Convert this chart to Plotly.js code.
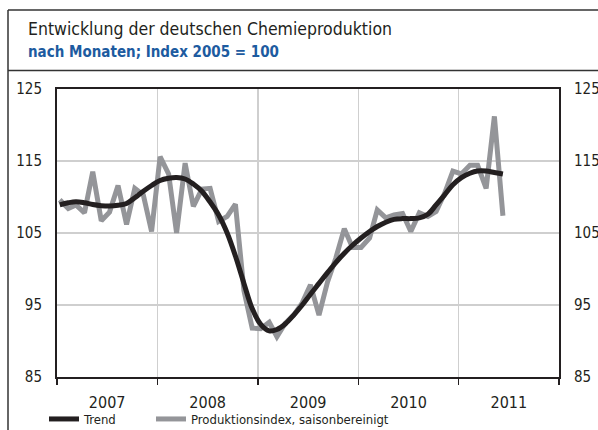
<!DOCTYPE html>
<html>
<head>
<meta charset="utf-8">
<script src="https://cdn.plot.ly/plotly-3.0.1.min.js"></script>
<style>
  html, body { margin: 0; padding: 0; background: #fff; }
  #chart { width: 598px; height: 430px; }
</style>
</head>
<body>
<div id="chart"></div>
<script>
// ---- data (monthly, Jan 2007 – Jun 2011) ----
const startYear = 2007;
const produktionsindex = [
  109.6, 108.4, 108.9, 107.8, 113.5, 106.7, 107.9, 111.6, 106.2, 111.2, 110.3, 105.2,
  115.6, 113.2, 105.0, 114.7, 108.7, 111.1, 111.2, 106.6, 107.3, 109.0, 97.0, 91.8,
  91.7, 92.6, 90.6, 92.5, 93.6, 95.3, 97.8, 93.6, 98.2, 101.5, 105.6, 103.0,
  103.0, 104.3, 108.2, 107.1, 107.5, 107.7, 105.2, 107.8, 107.3, 108.0, 110.5, 113.6,
  113.2, 114.4, 114.4, 111.2, 121.2, 107.4
];
const trend = [
  108.9, 109.2, 109.35, 109.2, 108.95, 108.8, 108.75, 108.85, 109.1, 109.9, 110.8, 111.6,
  112.3, 112.6, 112.7, 112.5, 111.8, 110.8, 109.3, 107.5, 105.0, 101.8, 98.0, 94.5,
  92.3, 91.4, 91.6, 92.4, 93.6, 95.0, 96.5, 98.0, 99.5, 100.9, 102.2, 103.3,
  104.3, 105.2, 105.9, 106.5, 106.9, 107.0, 107.0, 107.1, 107.6, 108.9, 110.3, 111.7,
  112.7, 113.3, 113.6, 113.6, 113.4, 113.2
];
const yTicks = [85, 95, 105, 115, 125];
const seriesNames = ['Trend', 'Produktionsindex, saisonbereinigt'];
const titleText = 'Entwicklung der deutschen Chemieproduktion';
const subtitleText = 'nach Monaten; Index 2005 = 100';

// month dates
const months = produktionsindex.map((_, i) => {
  const y = startYear + Math.floor(i / 12);
  const m = String(i % 12 + 1).padStart(2, '0');
  return `${y}-${m}-11`;
});

const FONT = '"DejaVu Sans Condensed", "Liberation Sans Narrow", "Roboto", sans-serif';

const traces = [
  {
    x: months, y: produktionsindex, type: 'scatter', mode: 'lines',
    name: seriesNames[1], legend: 'legend2',
    line: { color: '#949599', width: 5, shape: 'linear' },
    hoverinfo: 'skip'
  },
  {
    x: months, y: trend, type: 'scatter', mode: 'lines',
    name: seriesNames[0], legend: 'legend',
    line: { color: '#231f20', width: 5, shape: 'spline', smoothing: 1 },
    hoverinfo: 'skip'
  },
  {
    x: months, y: trend, type: 'scatter', mode: 'lines', yaxis: 'y2',
    showlegend: false, hoverinfo: 'skip', line: { width: 0, color: 'rgba(0,0,0,0)' }
  }
];

const L = 57, R = 559, T = 89, B = 377, W = 598, H = 430;
const px = v => (v - L) / (R - L);
const py = v => (B - v) / (B - T);

const legendBase = {
  orientation: 'h', xanchor: 'left', yanchor: 'middle',
  xref: 'container', yref: 'container', y: 1 - 419 / H,
  font: { family: FONT, size: 13, color: '#231f20' },
  bgcolor: 'rgba(0,0,0,0)', borderwidth: 0, itemclick: false, itemdoubleclick: false
};

const layout = {
  width: W, height: H,
  margin: { l: L, r: W - R, t: T, b: H - B, pad: 0, autoexpand: false },
  paper_bgcolor: '#fff', plot_bgcolor: '#fff',
  font: { family: FONT, color: '#231f20', size: 15 },
  showlegend: true,
  title: {
    text: titleText,
    font: { family: FONT, size: 17.5, color: '#231f20' },
    x: 28 / W, xanchor: 'left', xref: 'container',
    y: 1 - 35 / H, yanchor: 'bottom', yref: 'container', pad: { t: 0, b: 0, l: 0, r: 0 }
  },
  annotations: [{
    text: '<b>' + subtitleText + '</b>', xref: 'paper', yref: 'paper',
    x: px(26), y: py(52), xanchor: 'left', yanchor: 'middle', showarrow: false,
    font: { family: FONT, size: 15, color: '#1d5ba0' }
  }],
  xaxis: {
    type: 'date',
    range: ['2007-01-01', '2012-01-01'],
    dtick: 'M12', tick0: '2007-01-01', tickformat: '%Y', ticklabelmode: 'period',
    showgrid: true, gridcolor: '#cfcfcf', gridwidth: 1.5,
    showline: true, linecolor: '#231f20', linewidth: 2, mirror: true,
    ticks: 'outside', ticklen: 6, tickwidth: 1.5, tickcolor: '#231f20',
    ticklabelstandoff: 4,
    tickfont: { size: 16, family: FONT, color: '#231f20' },
    zeroline: false, fixedrange: true
  },
  yaxis: {
    range: [85, 125], tickmode: 'array', tickvals: yTicks,
    showgrid: true, gridcolor: '#cfcfcf', gridwidth: 1.5,
    showline: true, linecolor: '#231f20', linewidth: 2, mirror: true,
    ticks: 'outside', ticklen: 10, tickcolor: 'rgba(0,0,0,0)',
    tickfont: { size: 15, family: FONT, color: '#231f20' },
    zeroline: false, fixedrange: true
  },
  yaxis2: {
    range: [85, 125], tickmode: 'array', tickvals: yTicks,
    overlaying: 'y', side: 'right', anchor: 'x',
    showgrid: false, showline: false,
    ticks: 'outside', ticklen: 11, tickcolor: 'rgba(0,0,0,0)',
    tickfont: { size: 15, family: FONT, color: '#231f20' },
    zeroline: false, fixedrange: true
  },
  legend: Object.assign({}, legendBase, { x: 44 / W }),
  legend2: Object.assign({}, legendBase, { x: 151 / W }),
  shapes: [
    // outer frame
    { type: 'line', xref: 'paper', yref: 'paper', x0: px(8), x1: px(8), y0: py(10), y1: py(440), line: { color: '#333', width: 1.5 } },
    { type: 'line', xref: 'paper', yref: 'paper', x0: px(8), x1: px(610), y0: py(10), y1: py(10), line: { color: '#333', width: 1.5 } },
    { type: 'line', xref: 'paper', yref: 'paper', x0: px(8), x1: px(610), y0: py(70.5), y1: py(70.5), line: { color: '#333', width: 1.5 } }
  ]
};

Plotly.newPlot('chart', traces, layout, { displayModeBar: false, staticPlot: true });
</script>
</body>
</html>
